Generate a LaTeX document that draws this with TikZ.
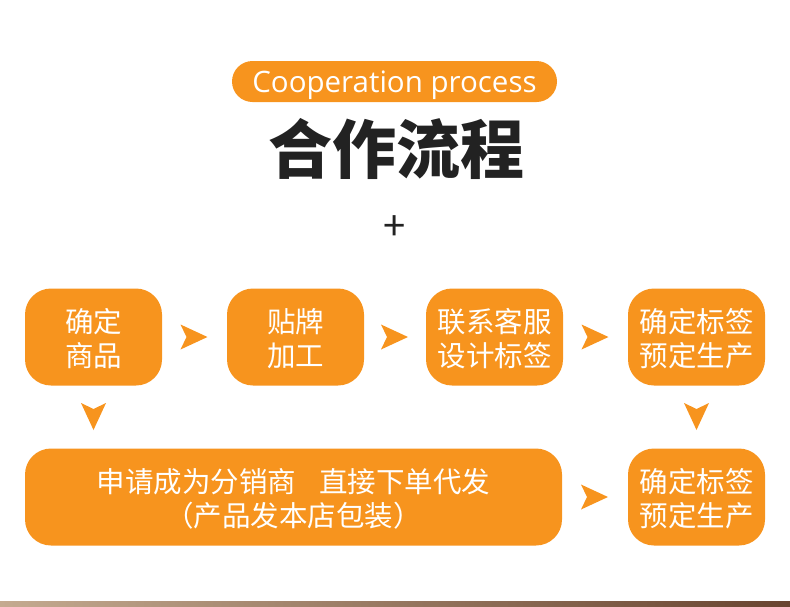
\documentclass[tikz,border=0pt]{standalone}
\usepackage{fontspec}
\setmainfont{Noto Sans CJK SC}
\newfontfamily\latinfont{Open Sans}
\usetikzlibrary{positioning,decorations.markings,calc}
\definecolor{procorange}{RGB}{247,148,30}
\definecolor{titleink}{RGB}{34,34,34}
\definecolor{striptan}{RGB}{196,170,144}
\definecolor{stripbrown}{RGB}{105,68,48}

\begin{document}
\begin{tikzpicture}[x=1pt,y=-1pt,
  box/.style={fill=procorange,rounded corners=26pt,minimum width=137pt,minimum height=97pt,inner sep=0pt,text height=63pt,text depth=3.4pt,text=white,align=center,font=\fontsize{28.5}{34.5}\selectfont},
  arr/.style={postaction={decorate,decoration={markings,mark=at position .5 with {\fill[procorange] (-14pt,12.5pt)--(13pt,0pt)--(-14pt,-12.5pt)--(-8pt,0pt)--cycle;}}}}]
\useasboundingbox (0,0) rectangle (790,606);
\node[fill=procorange,rounded corners=20.5pt,minimum width=325pt,minimum height=41pt,inner sep=0pt,text height=23pt,text depth=1pt,text=white,font=\latinfont\fontsize{29.5}{32}\selectfont] (pill) at (394.5,81.5) {Cooperation process};
\node[text=titleink,font=\bfseries\fontsize{64}{70}\selectfont] (title) at (396,149) {合作流程};
\node[text=titleink,font=\fontsize{40}{44}\selectfont] (plus) at (395,228) {+};
\foreach \x/\name/\txt in {93.5/b1/{确定\\商品},295.5/b2/{贴牌\\加工},494.5/b3/{联系客服\\设计标签},696.5/b4/{确定标签\\预定生产}}
  \node[box] (\name) at (\x,337) {\txt};
\node[box,minimum width=537pt] (apply) at (293.5,497) {申请成为分销商\hspace{.8em}直接下单代发\\（产品发本店包装）};
\node[box] (b5) at (696.5,497) {确定标签\\预定生产};
\path[arr](b1)--(b2);
\path[arr](b2)--(b3);
\path[arr](b3)--(b4);
\path[arr](b1.south)--(b1.south|-apply.north);
\path[arr](b4)--(b5);
\path[arr](apply)--(b5);
\shade[left color=striptan,right color=stripbrown] (0,601) rectangle (790,606);
\end{tikzpicture}
\end{document}
